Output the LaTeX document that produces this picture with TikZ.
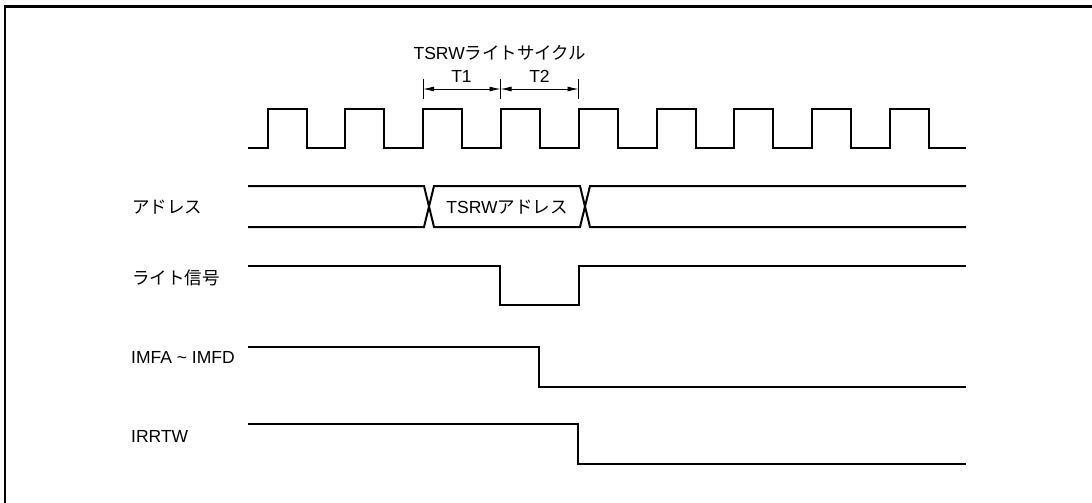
\documentclass[tikz,border=0pt]{standalone}
\usepackage{fontspec}
\setmainfont{Liberation Sans}
\newfontfamily\jpfont{Noto Sans CJK JP}
\usetikzlibrary{arrows.meta,positioning}

\begin{document}
\begin{tikzpicture}[
    x=1pt, y=-1pt,
    >={Latex[length=11pt,width=5pt]},
    sig/.style={line width=2pt, line join=miter},
    tick/.style={line width=0.9pt},
    lbl/.style={anchor=west, inner sep=0pt},
    font=\fontsize{17.5}{21}\selectfont
]
\useasboundingbox (0,0) rectangle (1092,503);

% frame
\draw[line width=2.5pt] (5,503) -- (5,6.3) -- (1092,6.3);

% cycle marks
\node (cyc) at (500,53) {TSRW{\jpfont ライトサイクル}};
\coordinate (c1) at (423,89);
\coordinate (c2) at (500.5,89);
\coordinate (c3) at (578.5,89);
\foreach \c in {c1,c2,c3}
  \draw[tick] (\c) ++(0,-10) -- ++(0,20);
\draw[tick,<->] (c1) -- (c2);
\draw[tick,<->] (c2) -- (c3);
\node (t1) at (461.5,76) {T1};
\node (t2) at (539.5,76) {T2};

% clock
\draw[sig] (248,148)
  \foreach \k in {0,...,8} { -- ({267.5+77.8*\k},148) -- ++(0,-39) -- ++(39,0) -- ++(0,39) }
  -- (966,148);

% address
\node[lbl] (adr) at (132,207) {\jpfont アドレス};
\draw[sig] (248,186) -- (424,186) -- (434,227) -- (580,227) -- (590,186) -- (966,186);
\draw[sig] (248,227) -- (424,227) -- (434,186) -- (580,186) -- (590,227) -- (966,227);
\node (tadr) at (507,207) {TSRW{\jpfont アドレス}};

% write signal
\node[lbl] (wr) at (132,278) {\jpfont ライト信号};
\draw[sig] (248,266) -- (500,266) -- (500,305) -- (579,305) -- (579,266) -- (966,266);

% IMFA ~ IMFD
\node[lbl] (imf) at (131,357) {IMFA \textasciitilde\ IMFD};
\draw[sig] (248,347) -- (539,347) -- (539,387) -- (966,387);

% IRRTW
\node[lbl] (irr) at (131,436) {IRRTW};
\draw[sig] (248,424) -- (578,424) -- (578,464) -- (966,464);

\end{tikzpicture}
\end{document}
